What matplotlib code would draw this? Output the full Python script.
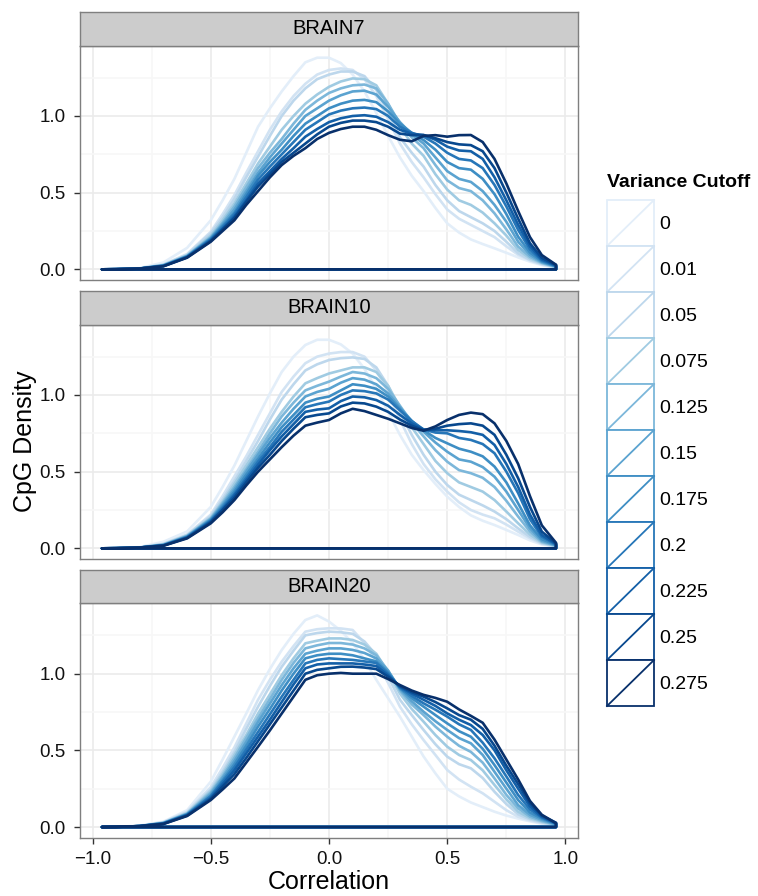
import numpy as np
import matplotlib
matplotlib.use("Agg")
import matplotlib.pyplot as plt
from matplotlib.patches import Rectangle
from matplotlib.lines import Line2D
from matplotlib.legend_handler import HandlerBase

plt.rcParams['font.family'] = ['Liberation Sans', 'DejaVu Sans']

# ---------------- data ----------------
correlation = [-0.96, -0.9, -0.8, -0.7, -0.6, -0.5, -0.45, -0.4, -0.35, -0.3, -0.25,
               -0.2, -0.15, -0.1, -0.05, 0.0, 0.05, 0.1, 0.15, 0.2, 0.25, 0.3, 0.35,
               0.4, 0.45, 0.5, 0.55, 0.6, 0.65, 0.7, 0.75, 0.8, 0.85, 0.9, 0.96]

cutoffs = ["0", "0.01", "0.05", "0.075", "0.125", "0.15", "0.175", "0.2",
           "0.225", "0.25", "0.275"]

panels = ["BRAIN7", "BRAIN10", "BRAIN20"]

brain7 = [
    [0, .001, .008, .045, .14, .32, .45, .59, .76, .93, 1.05, 1.16, 1.26, 1.35, 1.38, 1.38, 1.345, 1.27, 1.16, 1.02, .87, .73, .61, .51, .40, .30, .24, .195, .165, .137, .108, .078, .05, .028, .01],
    [0, .001, .006, .032, .10, .245, .36, .485, .63, .77, .91, 1.03, 1.13, 1.21, 1.27, 1.30, 1.31, 1.30, 1.24, 1.13, .98, .82, .70, .60, .49, .39, .33, .29, .25, .21, .15, .095, .058, .032, .012],
    [0, .001, .006, .03, .095, .235, .34, .46, .60, .735, .87, 1.0, 1.10, 1.18, 1.24, 1.27, 1.29, 1.29, 1.26, 1.17, 1.02, .86, .76, .67, .55, .45, .38, .34, .30, .25, .18, .105, .062, .036, .013],
    [0, .001, .005, .028, .09, .22, .32, .43, .56, .69, .80, .91, 1.0, 1.08, 1.14, 1.19, 1.225, 1.245, 1.24, 1.20, 1.08, .93, .82, .74, .62, .52, .45, .42, .37, .30, .22, .126, .072, .04, .015],
    [0, .001, .005, .027, .088, .21, .305, .41, .535, .66, .76, .85, .95, 1.04, 1.10, 1.15, 1.18, 1.20, 1.205, 1.18, 1.08, .95, .86, .79, .68, .58, .53, .51, .45, .365, .26, .148, .082, .043, .016],
    [0, .001, .005, .025, .086, .205, .295, .39, .51, .63, .73, .82, .91, 1.0, 1.05, 1.10, 1.135, 1.16, 1.165, 1.14, 1.06, .96, .88, .82, .73, .64, .59, .57, .51, .42, .31, .18, .095, .047, .018],
    [0, .001, .005, .024, .084, .20, .285, .37, .49, .61, .70, .78, .87, .95, 1.0, 1.05, 1.08, 1.10, 1.105, 1.09, 1.03, .95, .89, .843, .78, .70, .66, .65, .59, .49, .36, .213, .11, .052, .02],
    [0, .001, .005, .023, .082, .195, .275, .36, .47, .585, .67, .75, .83, .91, .96, 1.01, 1.035, 1.05, 1.055, 1.045, 1.0, .93, .89, .865, .82, .76, .72, .71, .66, .55, .41, .257, .13, .058, .022],
    [0, .001, .005, .022, .08, .19, .265, .345, .45, .56, .64, .72, .79, .865, .915, .96, .985, 1.0, 1.005, .995, .96, .91, .885, .875, .845, .80, .775, .77, .72, .60, .45, .29, .15, .065, .025],
    [0, .001, .005, .021, .078, .185, .26, .335, .44, .54, .62, .70, .76, .82, .88, .93, .955, .97, .97, .96, .93, .885, .875, .876, .855, .83, .815, .81, .77, .66, .50, .33, .17, .075, .028],
    [0, .001, .005, .02, .076, .18, .25, .32, .42, .51, .60, .68, .74, .79, .85, .89, .915, .93, .93, .91, .875, .845, .835, .87, .875, .865, .875, .876, .83, .72, .56, .38, .21, .093, .03],
]

brain10 = [
    [0, .001, .008, .043, .11, .27, .40, .54, .70, .86, 1.01, 1.15, 1.25, 1.326, 1.36, 1.36, 1.33, 1.27, 1.17, 1.04, .89, .74, .61, .51, .42, .337, .27, .215, .18, .152, .12, .087, .052, .025, .01],
    [0, .001, .006, .03, .09, .22, .34, .47, .60, .74, .88, 1.02, 1.12, 1.207, 1.25, 1.27, 1.28, 1.28, 1.25, 1.16, 1.02, .84, .68, .55, .45, .37, .30, .25, .22, .196, .155, .109, .065, .03, .012],
    [0, .001, .005, .028, .087, .21, .32, .44, .57, .70, .84, .97, 1.07, 1.16, 1.20, 1.228, 1.24, 1.245, 1.235, 1.18, 1.06, .89, .74, .61, .50, .413, .35, .315, .28, .24, .19, .13, .075, .033, .013],
    [0, .001, .005, .026, .083, .20, .305, .42, .54, .66, .78, .89, .99, 1.076, 1.11, 1.14, 1.16, 1.18, 1.18, 1.15, 1.06, .92, .79, .68, .57, .49, .43, .40, .37, .315, .24, .163, .09, .038, .015],
    [0, .001, .005, .024, .08, .195, .295, .40, .515, .63, .75, .86, .95, 1.03, 1.06, 1.087, 1.12, 1.15, 1.14, 1.11, 1.04, .93, .82, .73, .64, .565, .51, .49, .46, .40, .31, .207, .11, .043, .017],
    [0, .001, .005, .022, .078, .19, .285, .385, .50, .61, .72, .82, .91, .99, 1.02, 1.04, 1.08, 1.11, 1.10, 1.07, 1.01, .92, .83, .76, .69, .63, .58, .565, .53, .467, .37, .25, .13, .05, .019],
    [0, .001, .005, .021, .075, .185, .275, .37, .48, .585, .69, .79, .87, .95, .975, .99, 1.03, 1.07, 1.06, 1.04, .99, .91, .83, .77, .72, .685, .65, .63, .60, .533, .43, .293, .15, .06, .022],
    [0, .001, .005, .02, .073, .18, .265, .355, .46, .565, .66, .76, .84, .92, .94, .957, 1.0, 1.03, 1.025, 1.01, .97, .90, .83, .775, .755, .75, .72, .707, .68, .62, .50, .36, .19, .076, .025],
    [0, .001, .005, .019, .07, .175, .255, .345, .445, .545, .64, .73, .81, .89, .905, .913, .96, .99, .985, .967, .93, .87, .815, .775, .77, .77, .765, .757, .74, .674, .55, .40, .22, .087, .028],
    [0, .001, .005, .018, .068, .17, .25, .33, .43, .525, .61, .70, .78, .855, .87, .88, .925, .95, .945, .924, .89, .84, .80, .77, .78, .80, .81, .815, .80, .74, .61, .457, .27, .109, .032],
    [0, .001, .005, .017, .065, .163, .235, .315, .41, .50, .58, .66, .735, .80, .82, .837, .88, .91, .895, .87, .845, .815, .785, .767, .795, .837, .87, .885, .875, .815, .70, .55, .34, .15, .036],
]

brain20 = [
    [0, .001, .01, .035, .11, .296, .44, .59, .74, .893, 1.03, 1.154, 1.26, 1.35, 1.38, 1.34, 1.28, 1.20, 1.09, .96, .84, .72, .59, .46, .35, .25, .20, .16, .13, .10, .075, .055, .037, .022, .008],
    [0, .001, .006, .032, .10, .26, .385, .52, .675, .83, .96, 1.078, 1.18, 1.274, 1.29, 1.296, 1.295, 1.285, 1.20, 1.08, .94, .785, .67, .567, .47, .372, .31, .263, .22, .165, .11, .067, .043, .026, .01],
    [0, .001, .006, .03, .095, .245, .36, .49, .64, .785, .92, 1.045, 1.15, 1.25, 1.265, 1.274, 1.27, 1.26, 1.21, 1.12, .98, .83, .73, .633, .54, .459, .41, .383, .32, .23, .15, .083, .05, .03, .012],
    [0, .001, .006, .028, .09, .235, .345, .47, .60, .74, .865, .99, 1.10, 1.198, 1.215, 1.23, 1.23, 1.22, 1.19, 1.13, 1.01, .87, .77, .687, .60, .524, .47, .437, .37, .274, .18, .10, .058, .035, .013],
    [0, .001, .006, .027, .087, .225, .33, .45, .58, .71, .835, .96, 1.07, 1.165, 1.185, 1.2, 1.2, 1.19, 1.165, 1.12, 1.02, .89, .80, .73, .655, .589, .53, .49, .42, .317, .21, .122, .068, .04, .015],
    [0, .001, .006, .026, .085, .215, .32, .43, .555, .685, .805, .925, 1.035, 1.13, 1.15, 1.165, 1.165, 1.155, 1.135, 1.10, 1.02, .90, .82, .752, .69, .633, .58, .546, .47, .36, .25, .143, .08, .047, .017],
    [0, .001, .006, .025, .082, .205, .305, .41, .53, .655, .77, .89, 1.0, 1.10, 1.12, 1.13, 1.13, 1.12, 1.10, 1.08, 1.01, .905, .84, .785, .73, .676, .625, .589, .51, .404, .29, .176, .095, .055, .02],
    [0, .001, .006, .024, .08, .2, .295, .39, .505, .62, .735, .85, .96, 1.067, 1.09, 1.10, 1.095, 1.09, 1.08, 1.07, 1.0, .91, .855, .807, .765, .72, .67, .633, .55, .448, .33, .209, .115, .062, .022],
    [0, .001, .006, .022, .078, .19, .28, .37, .48, .59, .70, .815, .93, 1.035, 1.06, 1.067, 1.067, 1.067, 1.06, 1.05, .99, .915, .87, .83, .79, .741, .70, .665, .60, .50, .37, .25, .135, .067, .025],
    [0, .001, .006, .021, .075, .183, .265, .345, .45, .56, .67, .78, .89, 1.0, 1.025, 1.035, 1.045, 1.046, 1.04, 1.03, .98, .92, .88, .85, .815, .774, .73, .70, .64, .53, .40, .28, .155, .075, .028],
    [0, .001, .006, .02, .072, .176, .245, .317, .42, .524, .63, .74, .85, .96, .99, 1.0, 1.005, 1.0, 1.0, 1.0, .965, .926, .89, .862, .842, .817, .767, .725, .68, .57, .44, .31, .17, .08, .025],
]

panel_data = [brain7, brain10, brain20]

x_ticks = [-1.0, -0.5, 0.0, 0.5, 1.0]
x_minor = [-0.75, -0.25, 0.25, 0.75]
y_ticks = [0.0, 0.5, 1.0]
y_minor = [0.25, 0.75, 1.25]

# ---------------- layout ----------------
W, H = 758, 896
fig = plt.figure(figsize=(W / 100, H / 100), dpi=100)


def fx(px):
    return px / W


def fh(px):
    return px / H


colors = plt.get_cmap('Blues')(np.linspace(0.1, 1.0, len(cutoffs)))

left_px, right_px = 80, 578
panel_tops = [45.6, 324.6, 603.3]
panel_h = 234.4
strip_h = 33.6
border_col = '#7F7F7F'
tick_fs = 13.5

for i, (name, data) in enumerate(zip(panels, panel_data)):
    top = panel_tops[i]
    ax = fig.add_axes([fx(left_px), 1 - fh(top + panel_h), fx(right_px - left_px), fh(panel_h)])
    ax.set_facecolor('white')
    ax.set_xlim(-1.053, 1.053)
    ax.set_ylim(-0.0695, 1.459)
    ax.set_xticks(x_ticks)
    ax.set_xticks(x_minor, minor=True)
    ax.set_yticks(y_ticks)
    ax.set_yticks(y_minor, minor=True)
    ax.grid(True, which='major', color='#EBEBEB', lw=1.2, zorder=0)
    ax.grid(True, which='minor', color='#F7F7F7', lw=1.2, zorder=0)
    ax.set_axisbelow(True)
    for sp in ax.spines.values():
        sp.set_color(border_col)
        sp.set_linewidth(1.0)
    ax.tick_params(which='minor', length=0)
    ax.tick_params(which='major', length=4.5, width=1.0, color='#333333',
                   labelsize=tick_fs, labelcolor='#111111', pad=6)
    ax.set_yticklabels([f"{v:.1f}" for v in y_ticks])
    if i < 2:
        ax.tick_params(axis='x', which='major', length=0, labelbottom=False)
    else:
        ax.set_xticklabels([f"{v:.1f}".replace('-', '\u2212') for v in x_ticks])
        ax.tick_params(axis='x', pad=5)

    for j, vals in enumerate(data):
        xs = list(correlation) + [correlation[-1], correlation[0], correlation[0]]
        ys = list(vals) + [0.0, 0.0, vals[0]]
        ax.plot(xs, ys, color=colors[j], lw=1.9, solid_joinstyle='round',
                solid_capstyle='round', zorder=2 + j)

    # strip
    sax = fig.add_axes([fx(left_px), 1 - fh(top), fx(right_px - left_px), fh(strip_h)])
    sax.set_facecolor('#CCCCCC')
    sax.set_xticks([])
    sax.set_yticks([])
    for sp in sax.spines.values():
        sp.set_color(border_col)
        sp.set_linewidth(1.0)
    sax.text(0.5, 0.5, name, ha='center', va='center', fontsize=14.5, color='black',
             transform=sax.transAxes)

fig.text(fx(329), 1 - fh(882), "Correlation", ha='center', va='center', fontsize=18)
fig.text(fx(25), 1 - fh(441), "CpG Density", ha='center', va='center', fontsize=18,
         rotation=90)


# ---------------- legend ----------------
class KeyHandler(HandlerBase):
    def create_artists(self, legend, orig_handle, xdescent, ydescent, width, height,
                       fontsize, trans):
        c = orig_handle.get_color()
        x0, y0 = -xdescent, -ydescent
        r = Rectangle((x0, y0), width, height, facecolor='white', edgecolor=c, lw=1.3,
                      transform=trans)
        ln = Line2D([x0, x0 + width], [y0, y0 + height], color=c, lw=1.3, transform=trans)
        return [r, ln]


leg_fs = 14
hh = (33.12 / leg_fs - 0.245) / 0.65
handles = [Line2D([], [], color=colors[j]) for j in range(len(cutoffs))]
leg = fig.legend(handles, cutoffs, handler_map={Line2D: KeyHandler()},
                 loc='upper left', bbox_to_anchor=(fx(607), 1 - fh(174)),
                 frameon=False, fontsize=leg_fs, borderpad=0, borderaxespad=0,
                 labelspacing=0, handlelength=33.84 / leg_fs, handleheight=hh,
                 handletextpad=0.28, title="Variance Cutoff",
                 title_fontproperties={'weight': 'bold', 'size': 14},
                 alignment='left')
leg._legend_box.sep = 6.5

fig.savefig("out.png", dpi=100, facecolor='white')
